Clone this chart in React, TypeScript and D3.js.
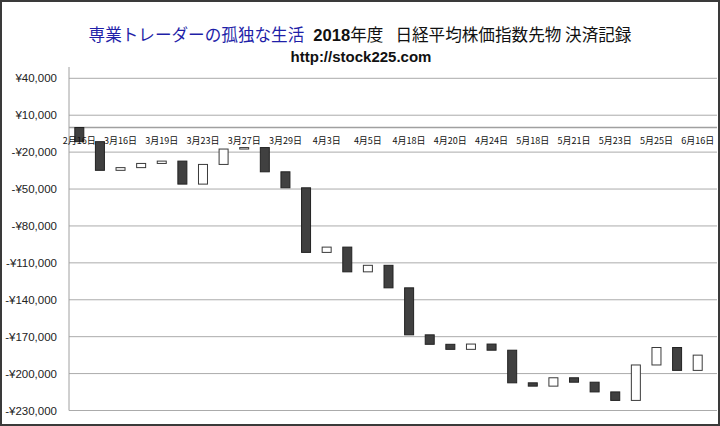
import React from "react";
import * as d3 from "d3";

// Trade sequence (31 settlements); every other one carries a date label
const tradeIndex = d3.range(31);
const tickLabels = [
  "2月16日", "3月16日", "3月19日", "3月23日", "3月27日", "3月29日", "4月3日", "4月5日",
  "4月18日", "4月20日", "4月24日", "5月18日", "5月21日", "5月23日", "5月25日", "6月16日",
];
// cumulative balance after each settlement (yen)
const closeValues = [
  -11500, -34800, -32600, -29200, -27300, -46000, -30000, -17500, -16300, -36000,
  -49000, -101500, -97200, -117300, -112000, -130300, -168500, -176200, -180300, -176000,
  -181000, -207500, -210200, -203400, -207000, -214900, -221800, -193000, -178800, -197400,
  -185000,
];
const openValues = [0, ...closeValues.slice(0, -1)];
const yTicks = [40000, 10000, -20000, -50000, -80000, -110000, -140000, -170000, -200000, -230000];

const W = 720;
const H = 426;
const plotLeft = 69;
const plotRight = 708;
const gridRight = 717;

const fmtYen = (v: number) => (v < 0 ? "-" : "") + "¥" + d3.format(",")(Math.abs(v));

export default function App() {
  const x = d3.scaleBand<number>().domain(tradeIndex).range([plotLeft, plotRight]);
  const y = d3.scaleLinear().domain([-230000, 40000]).range([410.5, 78.3]);
  const catCenter = (i: number) => (x(i) as number) + x.bandwidth() / 2;
  const barW = 9;

  return (
    <div style={{ position: "absolute", left: 0, top: 0 }}>
      <svg width={W} height={H} style={{ display: "block", background: "#fff" }}>
        <rect x={0} y={0} width={W} height={H} fill="#fff" />
        {/* title */}
        <text x={360} y={41} textAnchor="middle" fontSize={16.6} fontFamily="'Noto Sans CJK JP', sans-serif">
          <tspan fill="#1f1fa8">専業トレーダーの孤独な生活</tspan>
          <tspan fill="#111" dx={9} fontWeight="bold" fontFamily="'Liberation Sans', Arial, sans-serif">2018</tspan>
          <tspan fill="#111">年度</tspan>
          <tspan fill="#111" dx={12}>日経平均株価指数先物 決済記録</tspan>
        </text>
        <text x={361} y={62} textAnchor="middle" fontSize={15} fontWeight="bold" fill="#111" fontFamily="'Liberation Sans', Arial, sans-serif">
          http://stock225.com
        </text>

        {/* gridlines */}
        {yTicks.map((t) => (
          <line key={t} x1={plotLeft} x2={gridRight} y1={y(t)} y2={y(t)} stroke="#ababab" strokeWidth={1} />
        ))}
        {/* zero axis */}
        <line x1={plotLeft} x2={gridRight} y1={y(0)} y2={y(0)} stroke="#a0a0a0" strokeWidth={1.6} />
        {/* value axis */}
        <line x1={plotLeft} x2={plotLeft} y1={67} y2={y(-230000)} stroke="#a0a0a0" strokeWidth={1} />

        {/* y tick labels */}
        {yTicks.map((t) => (
          <text key={t} x={57} y={y(t)} dy="0.35em" textAnchor="end" fontSize={11.5} fill="#222" fontFamily="'Liberation Sans', Arial, sans-serif">
            {fmtYen(t)}
          </text>
        ))}

        {/* bars */}
        {tradeIndex.map((i) => {
          const o = openValues[i];
          const c = closeValues[i];
          const up = c > o;
          const top = y(Math.max(o, c));
          const bot = y(Math.min(o, c));
          const cx = catCenter(i);
          return (
            <rect
              key={i}
              x={cx - barW / 2}
              y={top}
              width={barW}
              height={Math.max(1, bot - top)}
              fill={up ? "#ffffff" : "#404040"}
              stroke={up ? "#3a3a3a" : "#222"}
              strokeWidth={1}
            />
          );
        })}

        {/* category labels */}
        {tickLabels.map((lab, k) => (
          <text key={lab} x={catCenter(k * 2)} y={141} dy="0.35em" textAnchor="middle" fontSize={9} fill="#111" fontFamily="'Noto Sans CJK JP', sans-serif">
            {lab}
          </text>
        ))}

        {/* outer border */}
        <rect x={1} y={1} width={W - 2} height={H - 2} fill="none" stroke="#3a3a3a" strokeWidth={2} />
      </svg>
    </div>
  );
}
